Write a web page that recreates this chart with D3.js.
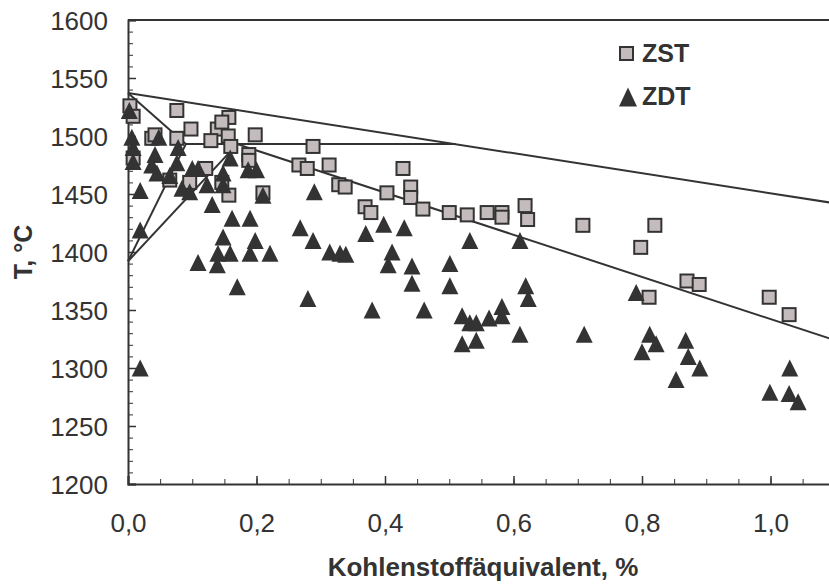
<!DOCTYPE html>
<html>
<head>
<meta charset="utf-8">
<script src="https://cdn.jsdelivr.net/npm/d3@7"></script>
<style>
  html, body { margin: 0; padding: 0; background: #fff; }
  svg { display: block; font-family: "Liberation Sans", Arial, sans-serif; }
</style>
</head>
<body>
<svg id="chart" width="829" height="584"></svg>
<script>
// Melting-range measurements vs. carbon equivalent
const zstCarbon = [0.003,0.008,0.076,0.098,0.037,0.042,0.076,0.139,0.157,0.146,0.129,0.156,0.16,0.198,0.188,0.188,0.008,0.121,0.065,0.096,0.146,0.157,0.21,
  0.288,0.266,0.279,0.313,0.428,0.328,0.338,0.403,0.44,0.44,0.369,0.378,0.459,0.5,0.528,0.559,0.582,0.582,0.618,0.622,
  0.708,0.82,0.798,0.87,0.889,0.811,0.998,1.029];
const zstTemp = [1526,1517,1522,1506,1498,1501,1498,1506,1516,1512,1496,1500,1491,1501,1484,1479,1481,1472,1462,1460,1460,1449,1451,
  1491,1475,1472,1475,1472,1458,1456,1451,1456,1447,1439,1434,1437,1434,1432,1434,1434,1430,1440,1428,
  1423,1423,1404,1375,1372,1361,1361,1346];

const zdtCarbon = [0.002,0.006,0.008,0.008,0.048,0.042,0.037,0.045,0.065,0.078,0.076,0.1,0.109,0.084,0.096,0.123,0.148,0.159,0.148,0.187,0.2,
  0.019,0.21,0.131,0.162,0.19,0.019,0.148,0.198,0.14,0.159,0.19,0.221,0.109,0.139,0.17,0.019,
  0.29,0.268,0.288,0.314,0.33,0.339,0.37,0.398,0.43,0.411,0.405,0.442,0.442,0.501,0.501,0.532,0.61,0.619,0.623,
  0.28,0.38,0.461,0.52,0.532,0.542,0.562,0.582,0.582,0.542,0.52,0.61,
  0.791,0.71,0.812,0.822,0.8,0.868,0.872,0.89,1.03,0.853,0.999,1.029,1.043];
const zdtTemp = [1522,1499,1490,1478,1499,1484,1475,1468,1466,1490,1477,1472,1472,1455,1452,1458,1468,1481,1458,1471,1471,
  1453,1449,1441,1429,1429,1419,1413,1410,1399,1399,1399,1399,1391,1389,1370,1300,
  1452,1421,1410,1400,1399,1398,1416,1424,1421,1400,1389,1388,1373,1390,1371,1410,1410,1371,1360,
  1360,1350,1350,1345,1339,1339,1343,1353,1345,1324,1321,1329,
  1365,1329,1329,1321,1314,1324,1310,1300,1300,1290,1279,1278,1271];

// Fe–C phase boundaries (carbon %, temperature °C)
const boundaryLiquidus = [[0, 1537], [1.1, 1442]];
const boundaryDeltaSolidus = [[0, 1537], [0.09, 1493]];
const boundaryPeritectic = [[0.09, 1493], [0.51, 1493]];
const boundaryGammaSolidus = [[0.17, 1493], [1.1, 1324]];
const boundaryDeltaGammaA = [[0, 1392], [0.09, 1493]];
const boundaryDeltaGammaB = [[0, 1392], [0.17, 1493]];
const boundaries = [boundaryLiquidus, boundaryDeltaSolidus, boundaryPeritectic,
  boundaryGammaSolidus, boundaryDeltaGammaA, boundaryDeltaGammaB];

const xTicks = [0, 0.2, 0.4, 0.6, 0.8, 1.0];
const yTicks = [1200, 1250, 1300, 1350, 1400, 1450, 1500, 1550, 1600];
const seriesNames = ["ZST", "ZDT"];

const ink = "#333333";
const squareFill = "#c4bcbc";

const svg = d3.select("#chart");
const x = d3.scaleLinear().domain([0, 1.1]).range([128, 834.75]);
const y = d3.scaleLinear().domain([1200, 1600]).range([484, 20]);

const fmt = v => d3.format(".1f")(v).replace(".", ",");

// minor ticks
svg.append("g").attr("transform", `translate(0,${y(1200)})`)
  .call(d3.axisBottom(x).tickValues(d3.range(0, 1.1, 0.05)).tickSize(-5).tickFormat(""))
  .call(g => g.select(".domain").remove());
svg.append("g").attr("transform", `translate(${x(0)},0)`)
  .call(d3.axisLeft(y).tickValues(d3.range(1200, 1601, 10)).tickSize(-5).tickFormat(""))
  .call(g => g.select(".domain").remove());

// major ticks with labels
const xAxis = svg.append("g").attr("transform", `translate(0,${y(1200)})`)
  .call(d3.axisBottom(x).tickValues(xTicks).tickSize(-8).tickPadding(30).tickFormat(fmt));
const yAxis = svg.append("g").attr("transform", `translate(${x(0)},0)`)
  .call(d3.axisLeft(y).tickValues(yTicks).tickSize(-8).tickPadding(20).tickFormat(d3.format("d")));

[xAxis, yAxis].forEach(g => {
  g.selectAll("line").attr("stroke", ink).attr("stroke-width", 1.5);
  g.select(".domain").attr("stroke", ink).attr("stroke-width", 2);
  g.selectAll("text").attr("fill", ink).attr("font-size", 26)
    .attr("font-family", "'Liberation Sans', Arial, sans-serif");
});
svg.selectAll("g").selectAll("line").attr("stroke", ink);
xAxis.selectAll(".tick text").attr("dy", "0.68em");
yAxis.selectAll(".tick text").attr("dy", "0.36em");

// top frame
svg.append("line")
  .attr("x1", x(0)).attr("x2", x(1.1)).attr("y1", y(1600)).attr("y2", y(1600))
  .attr("stroke", ink).attr("stroke-width", 2);

// phase boundaries
const line = d3.line().x(d => x(d[0])).y(d => y(d[1]));
svg.append("g").selectAll("path").data(boundaries).join("path")
  .attr("d", line).attr("fill", "none").attr("stroke", ink).attr("stroke-width", 2);

// markers
const sq = 13;
const tri = "M0,-8.5L8.5,8.5L-8.5,8.5Z";
svg.append("g").selectAll("rect").data(d3.range(zstCarbon.length)).join("rect")
  .attr("x", i => x(zstCarbon[i]) - sq / 2).attr("y", i => y(zstTemp[i]) - sq / 2)
  .attr("width", sq).attr("height", sq)
  .attr("fill", squareFill).attr("stroke", ink).attr("stroke-width", 2);
svg.append("g").selectAll("path").data(d3.range(zdtCarbon.length)).join("path")
  .attr("transform", i => `translate(${x(zdtCarbon[i])},${y(zdtTemp[i])})`)
  .attr("d", tri).attr("fill", ink);

// legend
const legend = svg.append("g");
legend.append("rect").attr("x", 620).attr("y", 47).attr("width", 13).attr("height", 13)
  .attr("fill", squareFill).attr("stroke", ink).attr("stroke-width", 2);
legend.append("path").attr("transform", "translate(628,97)").attr("d", "M0,-9.5L9,9.5L-9,9.5Z").attr("fill", ink);
legend.selectAll("text").data(seriesNames).join("text")
  .attr("x", 642).attr("y", (d, i) => 62 + i * 43)
  .attr("font-size", 25).attr("font-weight", "bold").attr("fill", ink).text(d => d);

// axis titles
svg.append("text").attr("x", 483).attr("y", 576).attr("text-anchor", "middle")
  .attr("font-size", 26).attr("font-weight", "bold").attr("fill", ink)
  .text("Kohlenstoffäquivalent, %");
svg.append("text").attr("transform", "translate(32,252) rotate(-90)").attr("text-anchor", "middle")
  .attr("font-size", 25).attr("font-weight", "bold").attr("fill", ink)
  .text("T, °C");
</script>
</body>
</html>
